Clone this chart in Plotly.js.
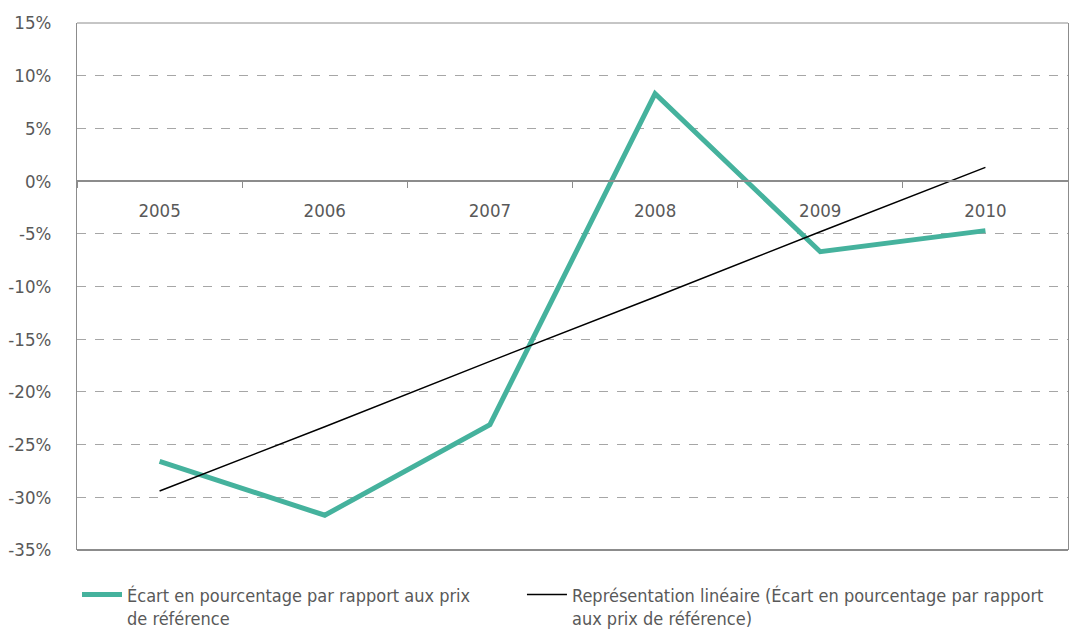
<!DOCTYPE html>
<html>
<head>
<meta charset="utf-8">
<script src="https://cdn.plot.ly/plotly-3.0.1.min.js"></script>
<style>html,body{margin:0;padding:0;background:#fff;}#chart{width:1073px;height:630px;}</style>
</head>
<body>
<div id="chart"></div>
<script>
const years = ['2005', '2006', '2007', '2008', '2009', '2010'];
const ecart = [-26.6, -31.7, -23.1, 8.3, -6.7, -4.7];
const tendance = [-29.4, -23.3, -17.1, -11.0, -4.8, 1.3];
const yTickVals = [-35, -30, -25, -20, -15, -10, -5, 0, 5, 10, 15];
const yTickText = ['-35%', '-30%', '-25%', '-20%', '-15%', '-10%', '-5%', '0%', '5%', '10%', '15%'];
const nameEcart = 'Écart en pourcentage par rapport aux prix<br>de référence';
const nameTendance = 'Représentation linéaire (Écart en pourcentage par rapport<br>aux prix de référence)';

const fontFam = '"DejaVu Sans Condensed", "DejaVu Sans", sans-serif';
const textCol = '#595959';
const fs = 18.5;
const fsLegend = 18;

const traces = [
  {x: years, y: ecart, type: 'scatter', mode: 'lines', name: nameEcart, legend: 'legend',
   line: {color: '#45B29D', width: 5}},
  {x: years, y: tendance, type: 'scatter', mode: 'lines', name: nameTendance, legend: 'legend2',
   line: {color: '#000000', width: 1.5}}
];

const legendBase = {
  orientation: 'h', xanchor: 'left', y: -0.05, yanchor: 'top', valign: 'top',
  itemwidth: 40, bgcolor: 'rgba(0,0,0,0)',
  font: {family: fontFam, size: fsLegend, color: textCol}
};

const layout = {
  width: 1073, height: 630,
  margin: {l: 77, r: 5, t: 23, b: 80, autoexpand: false},
  paper_bgcolor: '#fff', plot_bgcolor: '#fff',
  font: {family: fontFam, size: fs, color: textCol},
  showlegend: true,
  legend: Object.assign({}, legendBase, {x: 0}),
  legend2: Object.assign({}, legendBase, {x: 0.449}),
  xaxis: {type: 'category', range: [-0.5, 5.5], anchor: 'free', position: 0.7,
          showline: true, linecolor: '#8c8c8c', linewidth: 2,
          ticks: 'outside', tickson: 'boundaries', ticklen: 6, tickcolor: '#8c8c8c', tickwidth: 1,
          ticklabelstandoff: 13, showgrid: false, zeroline: false,
          tickfont: {family: fontFam, size: fs, color: textCol}},
  yaxis: {range: [-35, 15], tickvals: yTickVals, ticktext: yTickText,
          showgrid: true, gridcolor: '#a6a6a6', griddash: 'dash', gridwidth: 1,
          zeroline: false, showline: true, linecolor: '#8c8c8c', linewidth: 1, mirror: true,
          ticks: '', ticklabelstandoff: 21,
          tickfont: {family: fontFam, size: fs, color: textCol}},
  shapes: [
    {type: 'line', xref: 'paper', yref: 'paper', x0: 0, x1: 1, y0: 0, y1: 0,
     line: {color: '#8c8c8c', width: 2}},
    {type: 'line', xref: 'paper', yref: 'paper', x0: 0, x1: 1, y0: 1, y1: 1,
     line: {color: '#8c8c8c', width: 1}}
  ]
};

Plotly.newPlot('chart', traces, layout, {displayModeBar: false, staticPlot: true});
</script>
</body>
</html>
